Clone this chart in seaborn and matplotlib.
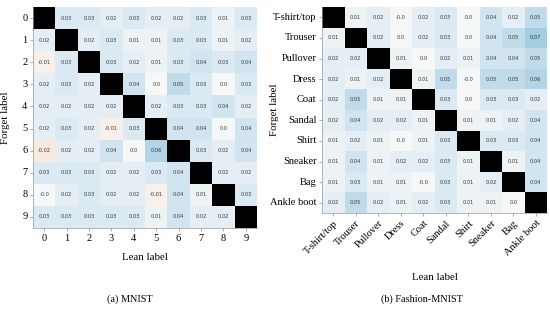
import numpy as np
import pandas as pd
import matplotlib
matplotlib.use("Agg")
import matplotlib.pyplot as plt
import seaborn as sns

nan = np.nan
mnist_labels = [str(i) for i in range(10)]
mnist_vals = [
    [nan, 0.03, 0.03, 0.02, 0.03, 0.02, 0.02, 0.03, 0.01, 0.03],
    [0.02, nan, 0.02, 0.03, 0.01, 0.01, 0.03, 0.03, 0.01, 0.02],
    [-0.01, 0.03, nan, 0.03, 0.02, 0.01, 0.03, 0.04, 0.03, 0.04],
    [0.02, 0.03, 0.02, nan, 0.04, 0.0, 0.05, 0.03, 0.0, 0.03],
    [0.02, 0.02, 0.02, 0.02, nan, 0.02, 0.03, 0.03, 0.04, 0.02],
    [0.02, 0.03, 0.02, -0.01, 0.03, nan, 0.04, 0.04, 0.0, 0.04],
    [-0.02, 0.02, 0.02, 0.04, 0.0, 0.06, nan, 0.03, 0.02, 0.04],
    [0.03, 0.03, 0.03, 0.02, 0.02, 0.03, 0.04, nan, 0.02, 0.02],
    [-0.0, 0.02, 0.03, 0.02, 0.02, -0.01, 0.04, 0.01, nan, 0.03],
    [0.03, 0.03, 0.03, 0.03, 0.03, 0.01, 0.04, 0.02, 0.02, nan],
]
fashion_labels = ["T-shirt/top", "Trouser", "Pullover", "Dress", "Coat",
                  "Sandal", "Shirt", "Sneaker", "Bag", "Ankle boot"]
fashion_vals = [
    [nan, 0.01, 0.02, -0.0, 0.02, 0.03, 0.0, 0.04, 0.02, 0.05],
    [0.01, nan, 0.02, 0.0, 0.02, 0.03, 0.0, 0.04, 0.05, 0.07],
    [0.02, 0.02, nan, 0.01, 0.0, 0.02, 0.01, 0.04, 0.04, 0.05],
    [0.02, 0.01, 0.02, nan, 0.01, 0.05, -0.0, 0.05, 0.05, 0.06],
    [0.02, 0.05, 0.01, 0.01, nan, 0.03, 0.0, 0.03, 0.03, 0.02],
    [0.02, 0.04, 0.02, 0.02, 0.01, nan, 0.01, 0.01, 0.02, 0.04],
    [0.01, 0.02, 0.01, -0.0, 0.01, 0.03, nan, 0.03, 0.03, 0.04],
    [0.01, 0.04, 0.01, 0.02, 0.02, 0.03, 0.01, nan, 0.01, 0.04],
    [0.01, 0.03, 0.01, 0.01, -0.0, 0.03, 0.01, 0.02, nan, 0.04],
    [0.02, 0.05, 0.02, 0.01, 0.02, 0.03, 0.01, 0.01, 0.0, nan],
]

serif = ["Liberation Serif", "DejaVu Serif"]
W, H = 550, 309
fig = plt.figure(figsize=(5.5, 3.09), dpi=100)


def px_axes(x0, y0, x1, y1):
    return fig.add_axes([x0 / W, 1 - y1 / H, (x1 - x0) / W, (y1 - y0) / H])


def draw(ax, vals, labels, rot):
    arr = np.array(vals, dtype=float)
    annot = np.array([["" if np.isnan(v) else str(v) for v in row] for row in arr])
    df = pd.DataFrame(arr, index=labels, columns=labels)
    ax.set_facecolor("black")
    sns.heatmap(df, ax=ax, cmap="RdBu", vmin=-0.2, vmax=0.2, cbar=False,
                annot=annot, fmt="", annot_kws={"fontsize": 3.6, "color": "#333333"})
    ax.set_xlabel("Lean label", family=serif, fontsize=7.8)
    ax.set_ylabel("Forget label", family=serif, fontsize=7.8)
    ax.tick_params(length=2, width=0.5, pad=2, color="#888888")
    for t in ax.get_yticklabels():
        t.set_family(serif); t.set_fontsize(7.5); t.set_rotation(0)
    for t in ax.get_xticklabels():
        t.set_family(serif); t.set_fontsize(7.5)
        if rot:
            t.set_rotation(45); t.set_ha("right"); t.set_rotation_mode("anchor")
        else:
            t.set_rotation(0)
    for s in ["left", "bottom"]:
        ax.spines[s].set_visible(True)
        ax.spines[s].set_color("#999999")
        ax.spines[s].set_linewidth(0.5)


ax1 = px_axes(33, 7, 257, 228)
draw(ax1, mnist_vals, mnist_labels, False)
ax1.yaxis.set_label_coords((10 - 33) / 224, 0.5)
ax1.xaxis.set_label_coords(0.5, -(253 - 228) / 221)
ax2 = px_axes(322, 7, 547, 213)
draw(ax2, fashion_vals, fashion_labels, True)
ax2.yaxis.set_label_coords((279 - 322) / 225, 0.5)
ax2.xaxis.set_label_coords(0.5, -(273 - 213) / 206)

fig.text(130 / W, 1 - 299 / H, "(a) MNIST", family=serif, fontsize=7.4, ha="center", va="center")
fig.text(422 / W, 1 - 299 / H, "(b) Fashion-MNIST", family=serif, fontsize=7.4, ha="center", va="center")

fig.savefig("out.png", dpi=100)
